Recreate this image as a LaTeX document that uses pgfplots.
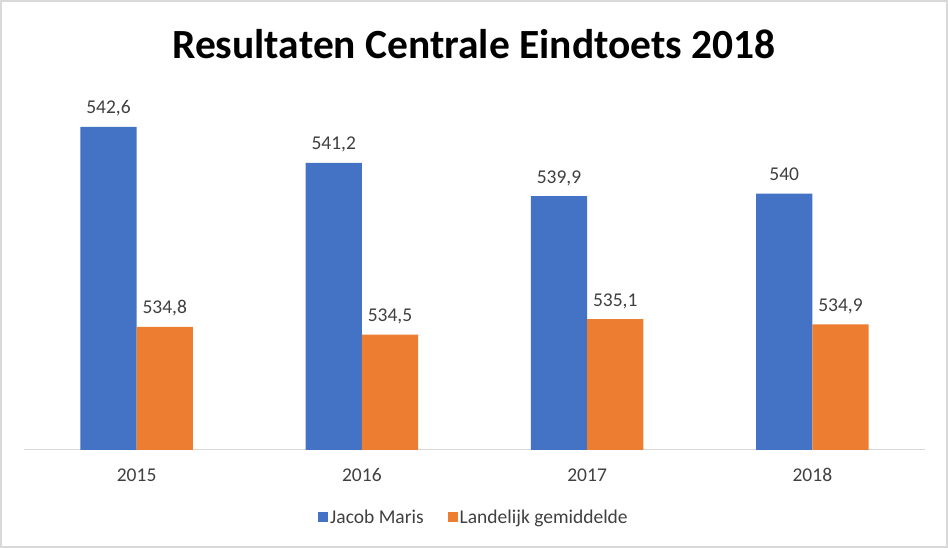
\documentclass[border=0pt]{standalone}
\usepackage{pgfplots}
\pgfplotsset{compat=1.18}
\usepackage{pgfplotstable}
\usepackage{fontspec}
\setmainfont{Carlito}
\definecolor{jmblue}{HTML}{4472C4}
\definecolor{lorange}{HTML}{ED7D31}
\definecolor{lbltext}{HTML}{404040}
\definecolor{framegray}{HTML}{D9D9D9}
\pgfplotstableread{
x y label
0 542.6 542,6
1 541.2 541,2
2 539.9 539,9
3 540.0 540
}\jacob
\pgfplotstableread{
x y label
0 534.8 534,8
1 534.5 534,5
2 535.1 535,1
3 534.9 534,9
}\landelijk
\begin{document}
\begin{tikzpicture}
\path[use as bounding box] (0pt,0pt) rectangle (948pt,548pt);
\fill[white] (0pt,0pt) rectangle (948pt,548pt);
\draw[framegray, line width=2pt] (1pt,1pt) rectangle (947pt,547pt);
\node[font=\bfseries\fontsize{41.5}{46}\selectfont, text=black] at (474pt,504pt) {Resultaten Centrale Eindtoets 2018};
\begin{axis}[
  at={(24pt,98pt)}, anchor=south west,
  width=901pt, height=359pt, scale only axis,
  xmin=-0.5, xmax=3.5, ymin=530, ymax=544,
  axis x line*=bottom, axis y line=none,
  x axis line style={draw=framegray, line width=1pt, -},
  xtick={0,1,2,3}, xticklabels={2015,2016,2017,2018},
  major tick length=0pt,
  xticklabel style={font=\fontsize{19.5}{22}\selectfont, text=lbltext, anchor=base, yshift=-32pt},
  ybar, bar width=0.25,
  nodes near coords,
  point meta=explicit symbolic,
  every node near coord/.append style={font=\fontsize{19.5}{22}\selectfont, text=lbltext, anchor=base, yshift=13pt},
  legend columns=2,
  legend style={at={(0.4994,-0.1866)}, anchor=center, draw=none, fill=none,
    font=\fontsize{19.5}{22}\selectfont, text=lbltext,
    /tikz/every even column/.append style={column sep=22pt}},
  legend cell align=left,
  clip=false,
]
\addplot[fill=jmblue, draw=none, bar shift=-0.125,
  legend image code/.code={\fill[jmblue] (0pt,-5pt) rectangle (10pt,5pt);}]
  table[x=x, y=y, meta=label] {\jacob};
\addlegendentry{Jacob Maris}
\addplot[fill=lorange, draw=none, bar shift=0.125,
  legend image code/.code={\fill[lorange] (0pt,-5pt) rectangle (10pt,5pt);}]
  table[x=x, y=y, meta=label] {\landelijk};
\addlegendentry{Landelijk gemiddelde}
\end{axis}
\end{tikzpicture}
\end{document}
